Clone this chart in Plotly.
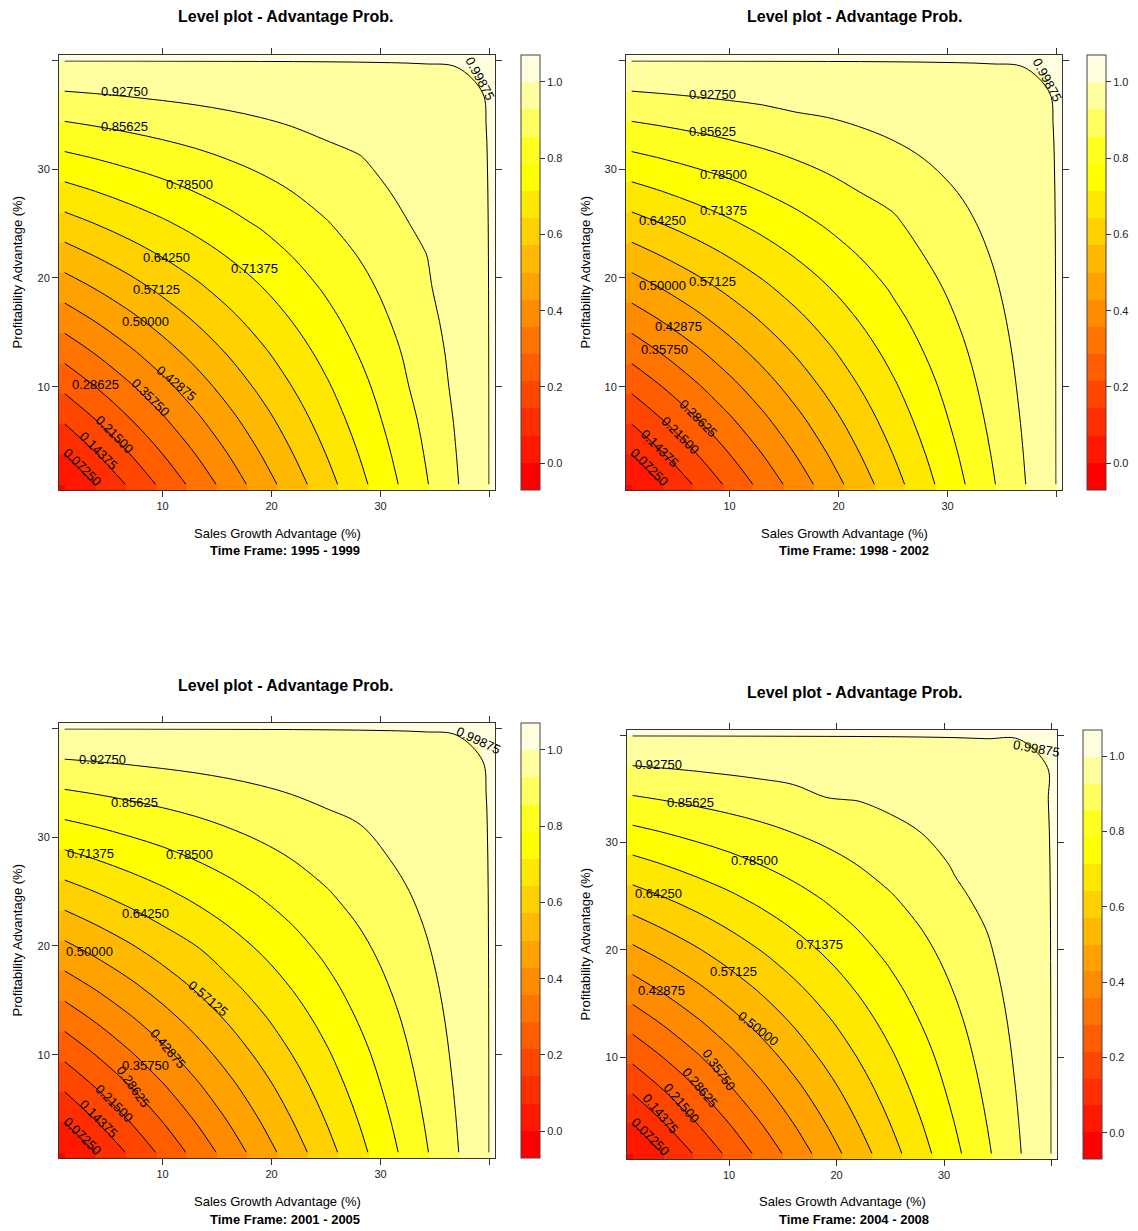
import plotly.graph_objects as go

# grid positions (Sales Growth Advantage %, Profitability Advantage %)
GRID_X = [1, 4, 7, 10, 13, 16, 19, 22, 25, 28, 31, 34, 37, 40]
GRID_Y = [1, 4, 7, 10, 13, 16, 19, 22, 25, 28, 31, 34, 37, 40]

# probability values (rows = GRID_Y, cols = GRID_X)
prob_1995_1999 = [
    [0.000, 0.077, 0.154, 0.231, 0.308, 0.385, 0.462, 0.538, 0.615, 0.692, 0.769, 0.846, 0.923, 1.000],
    [0.077, 0.148, 0.219, 0.290, 0.361, 0.432, 0.503, 0.574, 0.645, 0.716, 0.787, 0.858, 0.929, 1.000],
    [0.154, 0.219, 0.284, 0.349, 0.414, 0.479, 0.544, 0.609, 0.675, 0.740, 0.805, 0.870, 0.935, 1.000],
    [0.231, 0.290, 0.349, 0.408, 0.467, 0.527, 0.586, 0.645, 0.704, 0.763, 0.822, 0.886, 0.941, 1.000],
    [0.308, 0.361, 0.414, 0.467, 0.521, 0.574, 0.627, 0.680, 0.734, 0.787, 0.840, 0.893, 0.947, 1.000],
    [0.385, 0.432, 0.479, 0.527, 0.574, 0.621, 0.669, 0.716, 0.763, 0.811, 0.858, 0.905, 0.953, 1.000],
    [0.462, 0.503, 0.544, 0.586, 0.627, 0.669, 0.710, 0.751, 0.793, 0.834, 0.876, 0.917, 0.959, 1.000],
    [0.538, 0.574, 0.609, 0.645, 0.680, 0.716, 0.746, 0.787, 0.822, 0.858, 0.893, 0.924, 0.964, 1.000],
    [0.615, 0.645, 0.675, 0.704, 0.734, 0.763, 0.793, 0.822, 0.852, 0.882, 0.911, 0.941, 0.970, 1.000],
    [0.692, 0.716, 0.740, 0.763, 0.787, 0.811, 0.834, 0.858, 0.882, 0.905, 0.929, 0.953, 0.976, 1.000],
    [0.769, 0.787, 0.805, 0.822, 0.840, 0.858, 0.876, 0.893, 0.911, 0.924, 0.947, 0.964, 0.982, 1.000],
    [0.846, 0.858, 0.870, 0.882, 0.893, 0.905, 0.917, 0.929, 0.941, 0.953, 0.964, 0.976, 0.988, 1.000],
    [0.923, 0.929, 0.935, 0.941, 0.947, 0.953, 0.959, 0.964, 0.970, 0.976, 0.982, 0.988, 0.994, 1.000],
    [1.000, 1.000, 1.000, 1.000, 1.000, 1.000, 1.000, 1.000, 1.000, 1.000, 1.000, 1.000, 1.000, 1.000],
]
prob_1998_2002 = [
    [0.000, 0.077, 0.154, 0.231, 0.308, 0.385, 0.462, 0.538, 0.615, 0.692, 0.769, 0.846, 0.923, 1.000],
    [0.077, 0.148, 0.219, 0.290, 0.361, 0.432, 0.503, 0.574, 0.645, 0.716, 0.787, 0.858, 0.929, 1.000],
    [0.154, 0.219, 0.284, 0.349, 0.414, 0.479, 0.544, 0.609, 0.675, 0.740, 0.805, 0.870, 0.935, 1.000],
    [0.231, 0.290, 0.349, 0.408, 0.467, 0.527, 0.586, 0.645, 0.704, 0.763, 0.822, 0.882, 0.941, 1.000],
    [0.308, 0.361, 0.414, 0.467, 0.521, 0.574, 0.627, 0.680, 0.734, 0.787, 0.840, 0.893, 0.947, 1.000],
    [0.385, 0.432, 0.479, 0.527, 0.574, 0.621, 0.669, 0.716, 0.763, 0.811, 0.858, 0.905, 0.953, 1.000],
    [0.462, 0.503, 0.544, 0.586, 0.627, 0.669, 0.710, 0.746, 0.793, 0.834, 0.876, 0.917, 0.959, 1.000],
    [0.538, 0.574, 0.609, 0.645, 0.680, 0.716, 0.751, 0.787, 0.822, 0.858, 0.893, 0.929, 0.964, 1.000],
    [0.615, 0.645, 0.675, 0.704, 0.734, 0.763, 0.793, 0.822, 0.846, 0.882, 0.911, 0.941, 0.970, 1.000],
    [0.692, 0.716, 0.740, 0.763, 0.787, 0.811, 0.834, 0.858, 0.876, 0.905, 0.929, 0.953, 0.976, 1.000],
    [0.769, 0.787, 0.805, 0.822, 0.840, 0.858, 0.876, 0.893, 0.911, 0.929, 0.947, 0.964, 0.982, 1.000],
    [0.846, 0.858, 0.870, 0.882, 0.893, 0.909, 0.917, 0.929, 0.941, 0.953, 0.964, 0.976, 0.988, 1.000],
    [0.923, 0.929, 0.935, 0.941, 0.947, 0.953, 0.959, 0.964, 0.970, 0.976, 0.982, 0.988, 0.994, 1.000],
    [1.000, 1.000, 1.000, 1.000, 1.000, 1.000, 1.000, 1.000, 1.000, 1.000, 1.000, 1.000, 1.000, 1.000],
]
prob_2001_2005 = [
    [0.000, 0.077, 0.154, 0.231, 0.308, 0.385, 0.462, 0.538, 0.615, 0.692, 0.769, 0.846, 0.923, 1.000],
    [0.077, 0.148, 0.219, 0.290, 0.361, 0.432, 0.503, 0.574, 0.645, 0.716, 0.787, 0.858, 0.929, 1.000],
    [0.154, 0.219, 0.284, 0.349, 0.414, 0.479, 0.544, 0.609, 0.675, 0.740, 0.805, 0.870, 0.935, 1.000],
    [0.231, 0.290, 0.349, 0.408, 0.467, 0.527, 0.586, 0.645, 0.704, 0.763, 0.822, 0.882, 0.941, 1.000],
    [0.308, 0.361, 0.414, 0.467, 0.521, 0.574, 0.627, 0.680, 0.734, 0.787, 0.840, 0.893, 0.947, 1.000],
    [0.385, 0.432, 0.479, 0.527, 0.574, 0.621, 0.669, 0.716, 0.763, 0.811, 0.858, 0.905, 0.953, 1.000],
    [0.462, 0.503, 0.544, 0.586, 0.622, 0.669, 0.710, 0.751, 0.793, 0.834, 0.876, 0.917, 0.959, 1.000],
    [0.538, 0.574, 0.609, 0.645, 0.680, 0.716, 0.751, 0.787, 0.822, 0.858, 0.893, 0.929, 0.964, 1.000],
    [0.615, 0.645, 0.675, 0.704, 0.734, 0.763, 0.793, 0.822, 0.852, 0.882, 0.911, 0.941, 0.970, 1.000],
    [0.692, 0.716, 0.740, 0.763, 0.787, 0.811, 0.834, 0.858, 0.882, 0.905, 0.929, 0.953, 0.976, 1.000],
    [0.769, 0.787, 0.805, 0.822, 0.840, 0.858, 0.876, 0.893, 0.911, 0.925, 0.947, 0.964, 0.982, 1.000],
    [0.846, 0.858, 0.870, 0.882, 0.893, 0.905, 0.917, 0.929, 0.941, 0.953, 0.964, 0.976, 0.988, 1.000],
    [0.923, 0.929, 0.935, 0.941, 0.947, 0.953, 0.959, 0.964, 0.970, 0.976, 0.982, 0.988, 0.994, 1.000],
    [1.000, 1.000, 1.000, 1.000, 1.000, 1.000, 1.000, 1.000, 1.000, 1.000, 1.000, 1.000, 1.000, 1.000],
]
prob_2004_2008 = [
    [0.000, 0.077, 0.154, 0.231, 0.308, 0.385, 0.462, 0.538, 0.615, 0.692, 0.769, 0.846, 0.923, 1.000],
    [0.077, 0.148, 0.219, 0.290, 0.361, 0.432, 0.503, 0.574, 0.645, 0.716, 0.787, 0.858, 0.929, 1.000],
    [0.154, 0.219, 0.284, 0.349, 0.414, 0.479, 0.544, 0.609, 0.675, 0.740, 0.805, 0.870, 0.935, 1.000],
    [0.231, 0.290, 0.349, 0.408, 0.467, 0.527, 0.586, 0.645, 0.704, 0.763, 0.822, 0.882, 0.941, 1.000],
    [0.308, 0.361, 0.414, 0.467, 0.521, 0.574, 0.627, 0.680, 0.734, 0.787, 0.840, 0.893, 0.947, 1.000],
    [0.385, 0.432, 0.479, 0.527, 0.574, 0.621, 0.669, 0.716, 0.763, 0.811, 0.858, 0.905, 0.953, 1.000],
    [0.462, 0.503, 0.544, 0.586, 0.627, 0.669, 0.710, 0.751, 0.793, 0.834, 0.876, 0.917, 0.959, 1.000],
    [0.538, 0.574, 0.609, 0.645, 0.680, 0.716, 0.751, 0.787, 0.822, 0.858, 0.893, 0.929, 0.964, 1.000],
    [0.615, 0.645, 0.675, 0.704, 0.734, 0.763, 0.793, 0.822, 0.852, 0.882, 0.918, 0.941, 0.970, 1.000],
    [0.692, 0.716, 0.740, 0.763, 0.787, 0.811, 0.834, 0.858, 0.882, 0.905, 0.933, 0.953, 0.976, 1.000],
    [0.769, 0.787, 0.805, 0.822, 0.840, 0.858, 0.876, 0.893, 0.911, 0.929, 0.947, 0.964, 0.982, 1.000],
    [0.846, 0.858, 0.870, 0.882, 0.893, 0.905, 0.925, 0.929, 0.941, 0.953, 0.964, 0.976, 0.988, 1.000],
    [0.923, 0.929, 0.935, 0.941, 0.947, 0.953, 0.959, 0.964, 0.970, 0.976, 0.982, 0.988, 0.990, 1.000],
    [1.000, 1.000, 1.000, 1.000, 1.000, 1.000, 1.000, 1.000, 1.000, 1.000, 1.000, 1.000, 1.000, 1.000],
]

# contour label placement as in the reference: (label, x, y, angle)
labels_1995_1999 = [
    ("0.99875", 39.1, 38.3, 62), ("0.92750", 6.5, 37.1, 0), ("0.85625", 6.5, 33.9, 0),
    ("0.78500", 12.45, 28.6, 0), ("0.64250", 10.4, 21.9, 0), ("0.71375", 18.4, 20.9, 0),
    ("0.57125", 9.4, 18.9, 0), ("0.50000", 8.4, 16.0, 0), ("0.28625", 3.85, 10.2, 0),
    ("0.42875", 11.3, 10.3, 40), ("0.35750", 8.9, 9.0, 45), ("0.21500", 5.6, 5.6, 45),
    ("0.14375", 4.1, 4.1, 45), ("0.07250", 2.7, 2.6, 45),
]
labels_1998_2002 = [
    ("0.99875", 39.2, 38.2, 62), ("0.92750", 8.4, 36.9, 0), ("0.85625", 8.4, 33.5, 0),
    ("0.78500", 9.4, 29.5, 0), ("0.71375", 9.4, 26.2, 0), ("0.64250", 3.85, 25.3, 0),
    ("0.50000", 3.85, 19.3, 0), ("0.57125", 8.4, 19.7, 0), ("0.42875", 5.3, 15.5, 0),
    ("0.35750", 4.0, 13.4, 0), ("0.28625", 7.15, 7.1, 45), ("0.21500", 5.5, 5.55, 45),
    ("0.14375", 3.6, 4.3, 45), ("0.07250", 2.7, 2.6, 45),
]
labels_2001_2005 = [
    ("0.99875", 39.0, 38.9, 25), ("0.92750", 4.5, 37.1, 0), ("0.85625", 7.4, 33.2, 0),
    ("0.71375", 3.4, 28.5, 0), ("0.78500", 12.45, 28.4, 0), ("0.64250", 8.45, 23.0, 0),
    ("0.50000", 3.3, 19.5, 0), ("0.57125", 14.2, 15.2, 40), ("0.42875", 10.5, 10.6, 50),
    ("0.35750", 8.45, 9.0, 0), ("0.28625", 7.3, 7.1, 55), ("0.21500", 5.6, 5.55, 45),
    ("0.14375", 4.1, 4.1, 45), ("0.07250", 2.7, 2.5, 45),
]
labels_2004_2008 = [
    ("0.99875", 38.6, 38.8, 10), ("0.92750", 3.45, 37.3, 0), ("0.85625", 6.45, 33.7, 0),
    ("0.78500", 12.4, 28.3, 0), ("0.64250", 3.45, 25.3, 0), ("0.71375", 18.4, 20.5, 0),
    ("0.57125", 10.4, 18.0, 0), ("0.42875", 3.75, 16.2, 0), ("0.50000", 12.7, 12.7, 38),
    ("0.35750", 9.0, 8.8, 55), ("0.28625", 7.3, 7.2, 50), ("0.21500", 5.6, 5.7, 50),
    ("0.14375", 3.6, 4.75, 50), ("0.07250", 2.65, 2.6, 45),
]

TIME_FRAMES = ["1995 - 1999", "1998 - 2002", "2001 - 2005", "2004 - 2008"]
TICK_VALS = [10, 20, 30, 40]
TICK_TEXT = ["10", "20", "30", ""]
CB_TICK_VALS = [0.0, 0.2, 0.4, 0.6, 0.8, 1.0]
CB_TICK_TEXT = ["0.0", "0.2", "0.4", "0.6", "0.8", "1.0"]

# heat.colors(16)
HEAT = ["#FF0000", "#FF1700", "#FF2E00", "#FF4600", "#FF5D00", "#FF7400", "#FF8B00", "#FFA200",
        "#FFB900", "#FFD100", "#FFE800", "#FFFF00", "#FFFF20", "#FFFF60", "#FFFF9F", "#FFFFDF"]
ZMIN, ZMAX = -0.07, 1.07
LEVEL_START, LEVEL_STEP = 0.0725, 0.07125

colorscale = []
n = len(HEAT)
for k, c in enumerate(HEAT):
    colorscale.append([k / n, c])
    colorscale.append([(k + 1) / n, c])

W, H = 1138, 1231
FONT = "Liberation Sans, Arial, Helvetica, sans-serif"

panels = [
    dict(px=(59, 495), py=(55, 490), cbx=521, title_y=17, xl_y=533, sub_y=550, yl_x=17, qx=285),
    dict(px=(626, 1062), py=(55, 490), cbx=1087, title_y=17, xl_y=533, sub_y=550, yl_x=585, qx=854),
    dict(px=(59, 495), py=(723, 1158), cbx=521, title_y=685, xl_y=1201, sub_y=1219, yl_x=17, qx=285),
    dict(px=(627, 1057), py=(730, 1159), cbx=1083, title_y=692, xl_y=1201, sub_y=1219, yl_x=585, qx=854),
]
data_sets = [prob_1995_1999, prob_1998_2002, prob_2001_2005, prob_2004_2008]
label_sets = [labels_1995_1999, labels_1998_2002, labels_2001_2005, labels_2004_2008]

fig = go.Figure()
annotations = []
layout_axes = {}

for i, (p, z, labs, tf) in enumerate(zip(panels, data_sets, label_sets, TIME_FRAMES)):
    ax = "" if i == 0 else str(i + 1)
    xd = [p["px"][0] / W, p["px"][1] / W]
    yd = [1 - p["py"][1] / H, 1 - p["py"][0] / H]
    ycen = (yd[0] + yd[1]) / 2
    ylen = yd[1] - yd[0]

    fig.add_trace(go.Heatmap(
        x=GRID_X, y=GRID_Y, z=z, zmin=ZMIN, zmax=ZMAX, colorscale=colorscale,
        zsmooth="best", xaxis="x" + ax, yaxis="y" + ax, hoverinfo="skip",
        colorbar=dict(
            x=p["cbx"] / W, xanchor="left", xpad=0, y=ycen, yanchor="middle", ypad=0,
            len=ylen, lenmode="fraction", thickness=19, thicknessmode="pixels",
            outlinecolor="#444444", outlinewidth=1,
            tickvals=CB_TICK_VALS, ticktext=CB_TICK_TEXT, ticks="outside", ticklen=5,
            tickcolor="#333333", tickfont=dict(family=FONT, size=11, color="#222222"),
        ),
    ))
    fig.add_trace(go.Contour(
        x=GRID_X, y=GRID_Y, z=z, xaxis="x" + ax, yaxis="y" + ax, showscale=False,
        hoverinfo="skip",
        contours=dict(start=LEVEL_START, end=0.999, size=LEVEL_STEP, coloring="none",
                      showlabels=False),
        line=dict(color="black", width=1),
    ))

    axis_common = dict(range=[0.5, 40.5], tickvals=TICK_VALS, ticktext=TICK_TEXT,
                       ticks="outside", ticklen=6, tickcolor="#333333",
                       showline=True, linecolor="#333333", linewidth=1, mirror="ticks",
                       showgrid=False, zeroline=False,
                       tickfont=dict(family=FONT, size=11, color="#222222"))
    layout_axes["xaxis" + ax] = dict(domain=xd, anchor="y" + ax, **axis_common)
    layout_axes["yaxis" + ax] = dict(domain=yd, anchor="x" + ax, **axis_common)

    for (txt, lx, ly, ang) in labs:
        annotations.append(dict(
            text=txt, x=lx, y=ly, xref="x" + ax, yref="y" + ax, textangle=ang,
            xanchor="center", yanchor="middle", showarrow=False,
            font=dict(family=FONT, size=13, color="black")))

    xc = (xd[0] + xd[1]) / 2
    annotations += [
        dict(text="<b>Level plot - Advantage Prob.</b>", x=p["qx"] / W, y=1 - p["title_y"] / H,
             xref="paper", yref="paper", xanchor="center", yanchor="middle", showarrow=False,
             font=dict(family=FONT, size=16, color="black")),
        dict(text="Sales Growth Advantage (%)", x=xc, y=1 - p["xl_y"] / H,
             xref="paper", yref="paper", xanchor="center", yanchor="middle", showarrow=False,
             font=dict(family=FONT, size=13, color="black")),
        dict(text="<b>Time Frame: " + tf + "</b>", x=p["qx"] / W, y=1 - p["sub_y"] / H,
             xref="paper", yref="paper", xanchor="center", yanchor="middle", showarrow=False,
             font=dict(family=FONT, size=13, color="black")),
        dict(text="Profitability Advantage (%)", x=p["yl_x"] / W, y=ycen, textangle=-90,
             xref="paper", yref="paper", xanchor="center", yanchor="middle", showarrow=False,
             font=dict(family=FONT, size=13, color="black")),
    ]

fig.update_layout(
    width=W, height=H, margin=dict(l=0, r=0, t=0, b=0),
    paper_bgcolor="white", plot_bgcolor="white", showlegend=False,
    annotations=annotations, font=dict(family=FONT), **layout_axes,
)

fig.write_html("out.html")
